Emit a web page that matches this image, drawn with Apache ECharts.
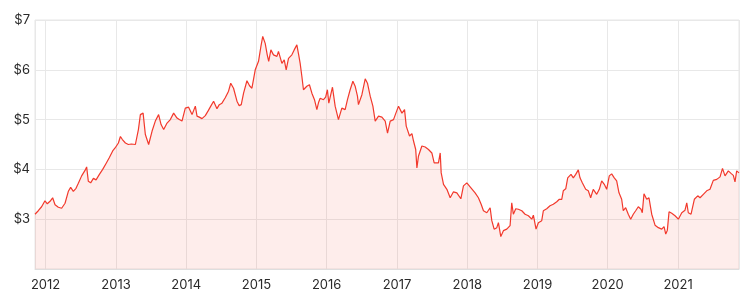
<!DOCTYPE html>
<html>
<head>
<meta charset="utf-8">
<script src="https://cdn.jsdelivr.net/npm/echarts@6/dist/echarts.min.js"></script>
<style>
html,body{margin:0;padding:0;background:#fff;}
#chart{width:752px;height:303px;}
</style>
</head>
<body>
<div id="chart"></div>
<script>
// Time positions in decimal years
var years = [
2011.849,2011.896,2011.943,2011.991,2012.024,2012.063,2012.100,2012.134,2012.181,2012.228,
2012.276,2012.323,2012.356,2012.394,2012.432,2012.465,2012.512,2012.560,2012.583,2012.607,
2012.640,2012.679,2012.717,2012.764,2012.811,2012.859,2012.906,2012.953,2012.987,2013.034,
2013.063,2013.091,2013.134,2013.176,2013.219,2013.276,2013.319,2013.347,2013.386,2013.418,
2013.465,2013.514,2013.560,2013.607,2013.642,2013.679,2013.727,2013.774,2013.821,2013.869,
2013.902,2013.940,2013.987,2014.034,2014.083,2014.130,2014.154,2014.186,2014.225,2014.272,
2014.314,2014.350,2014.390,2014.438,2014.471,2014.509,2014.556,2014.603,2014.634,2014.674,
2014.723,2014.755,2014.784,2014.817,2014.865,2014.902,2014.936,2014.983,2015.030,2015.064,
2015.090,2015.125,2015.154,2015.175,2015.206,2015.243,2015.292,2015.314,2015.363,2015.396,
2015.424,2015.457,2015.505,2015.538,2015.576,2015.602,2015.623,2015.647,2015.670,2015.718,
2015.755,2015.790,2015.827,2015.861,2015.886,2015.908,2015.955,2015.986,2016.011,2016.031,
2016.083,2016.121,2016.168,2016.216,2016.263,2016.296,2016.334,2016.373,2016.405,2016.438,
2016.452,2016.501,2016.548,2016.580,2016.619,2016.657,2016.690,2016.737,2016.785,2016.832,
2016.865,2016.903,2016.950,2016.989,2017.021,2017.070,2017.107,2017.131,2017.178,2017.212,
2017.235,2017.266,2017.283,2017.306,2017.354,2017.401,2017.448,2017.496,2017.529,2017.590,
2017.615,2017.629,2017.662,2017.710,2017.757,2017.804,2017.852,2017.909,2017.946,2017.994,
2018.017,2018.041,2018.066,2018.112,2018.159,2018.198,2018.231,2018.279,2018.326,2018.350,
2018.383,2018.421,2018.444,2018.478,2018.515,2018.563,2018.610,2018.634,2018.657,2018.691,
2018.728,2018.777,2018.824,2018.871,2018.919,2018.942,2018.980,2019.013,2019.061,2019.084,
2019.132,2019.179,2019.226,2019.275,2019.312,2019.346,2019.368,2019.403,2019.431,2019.478,
2019.511,2019.545,2019.582,2019.606,2019.639,2019.687,2019.724,2019.758,2019.795,2019.844,
2019.881,2019.915,2019.952,2019.986,2020.023,2020.057,2020.094,2020.128,2020.161,2020.199,
2020.222,2020.256,2020.293,2020.327,2020.364,2020.398,2020.435,2020.474,2020.492,2020.516,
2020.555,2020.587,2020.626,2020.673,2020.720,2020.768,2020.801,2020.825,2020.848,2020.872,
2020.910,2020.957,2021.004,2021.053,2021.099,2021.124,2021.146,2021.185,2021.232,2021.280,
2021.313,2021.360,2021.408,2021.455,2021.502,2021.551,2021.598,2021.633,2021.669,2021.716,
2021.754,2021.787,2021.811,2021.835,2021.868
];
// Share price in dollars
var prices = [
3.10,3.17,3.25,3.37,3.31,3.36,3.43,3.29,3.24,3.22,
3.32,3.56,3.64,3.56,3.62,3.72,3.87,3.98,4.05,3.76,
3.73,3.82,3.79,3.90,4.00,4.12,4.24,4.37,4.43,4.53,
4.66,4.60,4.53,4.50,4.51,4.50,4.80,5.10,5.13,4.70,
4.50,4.77,4.97,5.10,4.90,4.80,4.93,5.00,5.13,5.03,
5.00,4.97,5.23,5.25,5.10,5.27,5.07,5.05,5.02,5.08,
5.18,5.27,5.37,5.22,5.30,5.33,5.44,5.57,5.73,5.63,
5.37,5.28,5.30,5.53,5.78,5.68,5.63,6.00,6.17,6.47,
6.67,6.53,6.30,6.17,6.40,6.30,6.27,6.37,6.13,6.20,
6.00,6.23,6.30,6.40,6.50,6.30,6.13,5.87,5.60,5.67,
5.70,5.53,5.40,5.20,5.35,5.43,5.40,5.45,5.60,5.33,
5.65,5.27,5.00,5.23,5.20,5.40,5.60,5.77,5.67,5.47,
5.30,5.50,5.82,5.73,5.47,5.27,4.97,5.07,5.05,4.97,
4.73,4.97,5.00,5.15,5.27,5.13,5.20,4.87,4.67,4.72,
4.57,4.40,4.03,4.27,4.47,4.45,4.40,4.33,4.13,4.13,
4.33,3.93,3.70,3.60,3.43,3.55,3.53,3.41,3.67,3.73,
3.75,3.65,3.63,3.53,3.43,3.30,3.17,3.13,3.23,2.97,
2.80,2.83,2.93,2.65,2.77,2.80,2.87,3.33,3.10,3.21,
3.20,3.17,3.10,3.07,3.00,3.08,2.80,2.93,2.97,3.17,
3.21,3.27,3.30,3.35,3.40,3.40,3.57,3.61,3.83,3.90,
3.83,3.90,3.99,3.83,3.73,3.60,3.57,3.43,3.60,3.50,
3.60,3.77,3.70,3.60,3.87,3.91,3.83,3.77,3.53,3.40,
3.17,3.23,3.10,3.00,3.10,3.17,3.25,3.20,3.13,3.51,
3.40,3.43,3.10,2.88,2.83,2.80,2.85,2.70,2.78,3.15,
3.12,3.07,3.00,3.13,3.18,3.33,3.13,3.10,3.40,3.47,
3.43,3.50,3.57,3.60,3.78,3.80,3.85,4.02,3.87,3.97,
3.92,3.88,3.75,3.97,3.93
];
var yTicks = [2, 3, 4, 5, 6, 7];

function yearToTime(y) {
  var Y = Math.floor(y);
  var a = new Date(Y, 0, 1).getTime();
  var b = new Date(Y + 1, 0, 1).getTime();
  return a + (y - Y) * (b - a);
}
var seriesData = years.map(function (y, i) { return [yearToTime(y), prices[i]]; });

var FONT = 'Inter, "Noto Sans", sans-serif';
var chart = echarts.init(document.getElementById('chart'), null, {renderer: 'canvas'});
chart.setOption({
  animation: false,
  backgroundColor: '#ffffff',
  grid: {left: 35, right: 13, top: 20, bottom: 34, show: true, borderColor: '#e6e6e6', borderWidth: 1},
  xAxis: {
    type: 'time',
    min: 'dataMin',
    max: 'dataMax',
    splitNumber: 10,
    minInterval: 365 * 24 * 3600 * 1000,
    axisLine: {show: true, lineStyle: {color: '#dedede'}},
    axisTick: {show: false},
    splitLine: {show: true, lineStyle: {color: '#e8e8e8', width: 1}},
    axisLabel: {
      color: '#2a2a2a', fontSize: 13, fontFamily: FONT, margin: 10,
      showMinLabel: false, showMaxLabel: false,
      formatter: function (v) { return String(new Date(v).getFullYear()); }
    }
  },
  yAxis: {
    type: 'value',
    min: yTicks[0],
    max: yTicks[yTicks.length - 1],
    interval: 1,
    axisLine: {show: false},
    axisTick: {show: false},
    splitLine: {show: true, lineStyle: {color: '#e8e8e8', width: 1}},
    axisLabel: {
      color: '#2a2a2a', fontSize: 13, fontFamily: FONT, margin: 5,
      formatter: function (v) { return v === yTicks[0] ? '' : '$' + v; }
    }
  },
  series: [{
    type: 'line',
    data: seriesData,
    showSymbol: false,
    symbol: 'none',
    lineStyle: {color: '#f2392c', width: 1.2},
    itemStyle: {color: '#f2392c'},
    areaStyle: {color: 'rgba(244,67,54,0.14)'}
  }]
});
</script>
</body>
</html>
